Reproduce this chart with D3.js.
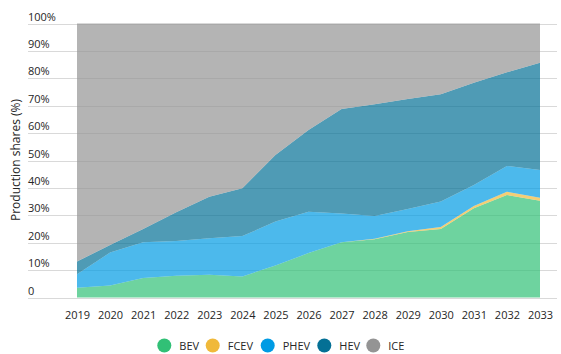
<!DOCTYPE html>
<html>
<head>
<meta charset="utf-8">
<script src="https://cdn.jsdelivr.net/npm/d3@7"></script>
<style>
  html, body { margin: 0; padding: 0; background: #fff; }
  svg { display: block; font-family: "Open Sans", "Noto Sans", sans-serif; }
</style>
</head>
<body>
<svg id="chart" width="561" height="354"></svg>
<script>
// Production shares by powertrain, % of total
const years = [2019, 2020, 2021, 2022, 2023, 2024, 2025, 2026, 2027, 2028, 2029, 2030, 2031, 2032, 2033];
const bev  = [3.6, 4.4, 7.1, 7.9, 8.3, 7.7, 11.7, 16.2, 20.2, 21.3, 23.9, 25.0, 32.6, 37.4, 35.3];
const fcev = [0, 0, 0, 0, 0, 0, 0, 0, 0, 0.1, 0.3, 0.7, 0.8, 1.2, 1.1];
const phev = [4.9, 12.0, 13.1, 12.7, 13.3, 14.7, 16.0, 15.1, 10.5, 8.3, 8.1, 9.3, 7.7, 9.4, 10.1];
const hev  = [4.6, 2.8, 4.8, 10.5, 15.2, 17.5, 24.3, 29.8, 38.1, 40.8, 40.1, 39.2, 37.3, 34.2, 39.2];
const ice  = [86.9, 80.8, 75.0, 68.9, 63.2, 60.1, 48.0, 38.9, 31.2, 29.5, 27.6, 25.8, 21.6, 17.8, 14.3];

const seriesNames = ["BEV", "FCEV", "PHEV", "HEV", "ICE"];
const seriesColors = ["#31c076", "#f0b93a", "#009be4", "#047095", "#949494"];
const yTickValues = [0, 10, 20, 30, 40, 50, 60, 70, 80, 90, 100];
const yTickLabels = ["0", "10%", "20%", "30%", "40%", "50%", "60%", "70%", "80%", "90%", "100%"];
const yTitle = "Production shares (%)";

const seriesValues = [bev, fcev, phev, hev, ice];
const rows = years.map((yr, i) => {
  const r = { year: yr };
  seriesNames.forEach((n, k) => { r[n] = seriesValues[k][i]; });
  return r;
});

const textColor = "#262626";
const svg = d3.select("#chart");
const x = d3.scaleLinear().domain([years[0], years[years.length - 1]]).range([77, 540]);
const y = d3.scaleLinear().domain([0, 100]).range([297.5, 23.5]);
const color = d3.scaleOrdinal().domain(seriesNames).range(seriesColors);

// gridlines
svg.append("g").selectAll("line").data(yTickValues).join("line")
  .attr("x1", 28).attr("x2", 557)
  .attr("y1", d => Math.round(y(d)) + 0.5).attr("y2", d => Math.round(y(d)) + 0.5)
  .attr("stroke", "#d9d9d9").attr("stroke-width", 1);

// y labels sit above their gridlines, left aligned
svg.append("g").selectAll("text").data(yTickValues).join("text")
  .attr("x", 28).attr("y", d => Math.round(y(d)) - 3)
  .attr("font-size", 11).attr("fill", textColor)
  .text((d, i) => yTickLabels[i]);

// stacked areas
const layers = d3.stack().keys(seriesNames)(rows);
const area = d3.area()
  .x(d => x(d.data.year))
  .y0(d => y(d[0]))
  .y1(d => y(d[1]));
svg.append("g").selectAll("path").data(layers).join("path")
  .attr("d", area)
  .attr("fill", d => color(d.key))
  .attr("fill-opacity", 0.7);

// x axis
const xAxis = d3.axisBottom(x).tickValues(years).tickFormat(d3.format("d")).tickSize(0).tickPadding(8);
const xg = svg.append("g").attr("transform", "translate(0,303)").call(xAxis);
xg.select(".domain").remove();
xg.selectAll("text").attr("font-size", 11).attr("fill", textColor)
  .attr("font-family", "\"Open Sans\", \"Noto Sans\", sans-serif");

// y title
svg.append("text")
  .attr("transform", "translate(19.5,160) rotate(-90)")
  .attr("text-anchor", "middle")
  .attr("font-size", 12).attr("fill", textColor)
  .text(yTitle);

// legend
const legendX = [164.3, 212.7, 267.7, 324.3, 373.3];
const lg = svg.append("g").selectAll("g").data(seriesNames).join("g")
  .attr("transform", (d, i) => `translate(${legendX[i]},345.5)`);
lg.append("circle").attr("r", 7).attr("fill", d => color(d));
lg.append("text").attr("x", 15).attr("y", 4).attr("font-size", 11).attr("fill", textColor).text(d => d);
</script>
</body>
</html>
